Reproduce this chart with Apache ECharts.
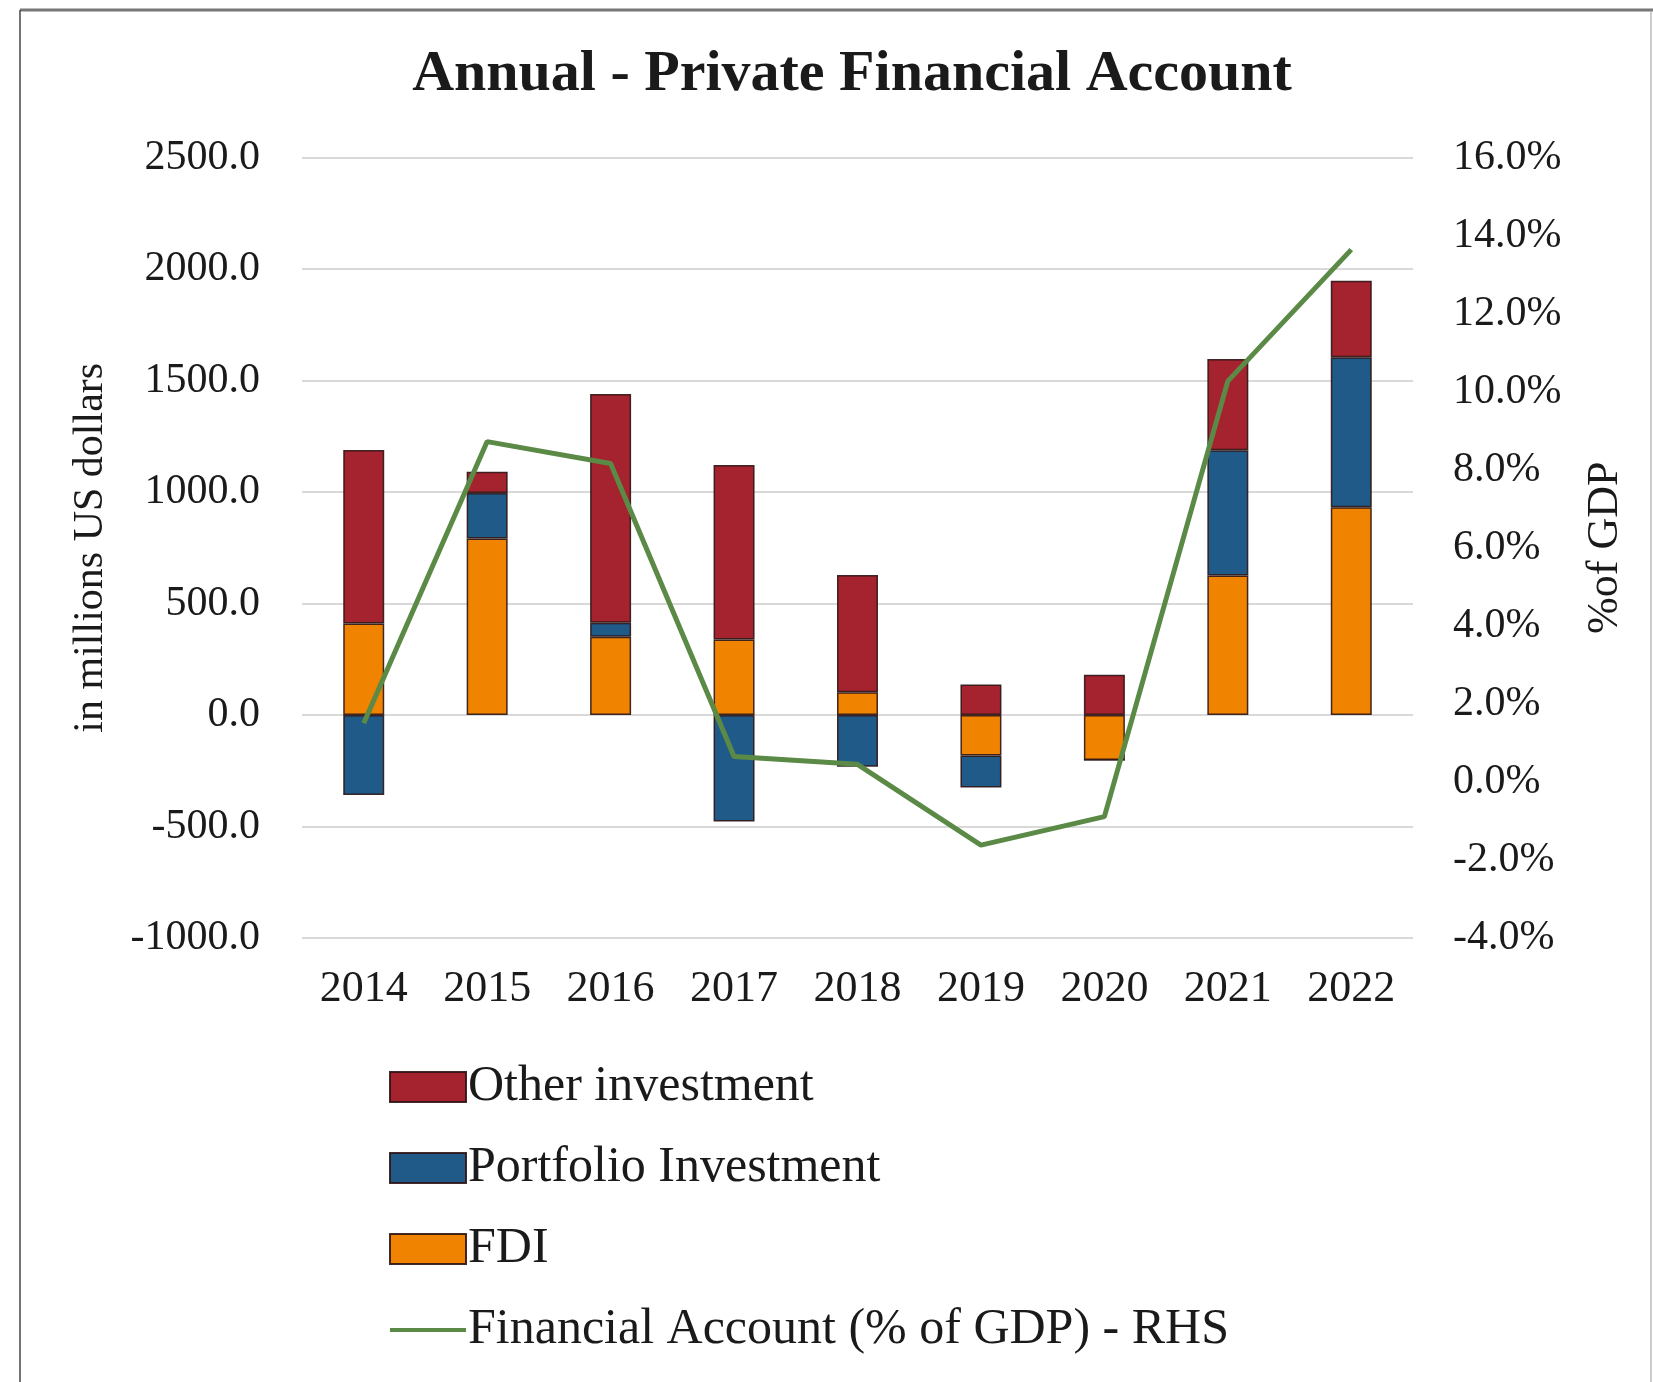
<!DOCTYPE html>
<html>
<head>
<meta charset="utf-8">
<script src="https://cdn.jsdelivr.net/npm/echarts@6/dist/echarts.min.js"></script>
<style>
  html, body { margin: 0; padding: 0; background: #ffffff; }
  #chart { width: 1653px; height: 1382px; }
</style>
</head>
<body>
<div id="chart"></div>
<script>
const years = ['2014', '2015', '2016', '2017', '2018', '2019', '2020', '2021', '2022'];
const fdi = [410, 792, 351, 339, 102, -182, -202, 626, 932];
const portfolio = [-359, 203, 63, -478, -232, -143, 0, 561, 672];
const otherInv = [778, 96, 1025, 782, 526, 137, 181, 409, 343];
const finAccountPct = [1.50, 8.72, 8.16, 0.65, 0.45, -1.62, -0.89, 10.27, 13.64];

const leftTicks = { min: -1000, max: 2500, interval: 500 };
const rightTicks = { min: -4, max: 16, interval: 2 };

const FONT = '"Liberation Serif", "DejaVu Serif", serif';
const TEXT = '#1a1a1a';
const BORDER = 'rgba(45,20,20,0.9)';

const chart = echarts.init(document.getElementById('chart'), null, { renderer: 'canvas' });

const barItem = (color) => ({ color: color, borderColor: BORDER, borderWidth: 1.5 });

chart.setOption({
  backgroundColor: '#ffffff',
  animation: false,
  textStyle: { fontFamily: FONT, color: TEXT },
  title: {
    text: 'Annual - Private Financial Account',
    left: 847,
    textAlign: 'center',
    top: 41,
    textStyle: { fontFamily: FONT, fontSize: 58, fontWeight: 'bold', color: TEXT }
  },
  graphic: [
    { type: 'line', shape: { x1: 20, y1: 10, x2: 1653, y2: 10 }, style: { stroke: '#777', lineWidth: 3 } },
    { type: 'line', shape: { x1: 20, y1: 10, x2: 20, y2: 1382 }, style: { stroke: '#444', lineWidth: 1.5 } },
    { type: 'line', shape: { x1: 1651, y1: 10, x2: 1651, y2: 1382 }, style: { stroke: '#999', lineWidth: 1 } }
  ],
  grid: { left: 302, right: 240, top: 157.5, bottom: 444, containLabel: false },
  legend: {
    orient: 'vertical',
    left: 383,
    top: 1057,
    itemWidth: 76,
    itemHeight: 30,
    itemGap: 31,
    data: [
      { name: 'Other investment', icon: 'rect' },
      { name: 'Portfolio Investment', icon: 'rect' },
      { name: 'FDI', icon: 'rect' },
      { name: 'Financial Account (% of GDP) - RHS', itemStyle: { opacity: 0 }, lineStyle: { width: 4 } }
    ],
    textStyle: { fontFamily: FONT, fontSize: 50, color: TEXT, lineHeight: 50, padding: [0, 0, 0, -3] }
  },
  xAxis: {
    type: 'category',
    data: years,
    axisLine: { show: false, onZero: false },
    axisTick: { show: false },
    axisLabel: { fontFamily: FONT, fontSize: 44, color: TEXT, margin: 29 }
  },
  yAxis: [
    {
      type: 'value',
      min: leftTicks.min,
      max: leftTicks.max,
      interval: leftTicks.interval,
      name: 'in millions US dollars',
      nameLocation: 'middle',
      nameRotate: 90,
      nameGap: 211,
      nameTextStyle: { fontFamily: FONT, fontSize: 42, color: TEXT, verticalAlign: 'middle' },
      axisLine: { show: false },
      axisTick: { show: false },
      axisLabel: {
        fontFamily: FONT, fontSize: 42, color: TEXT, margin: 42,
        formatter: (v) => v.toFixed(1)
      },
      splitLine: { show: true, lineStyle: { color: '#d9d9d9', width: 2 } }
    },
    {
      type: 'value',
      min: rightTicks.min,
      max: rightTicks.max,
      interval: rightTicks.interval,
      position: 'right',
      name: '%of GDP',
      nameLocation: 'middle',
      nameRotate: 90,
      nameGap: 192,
      nameTextStyle: { fontFamily: FONT, fontSize: 44, color: TEXT, verticalAlign: 'middle' },
      axisLine: { show: false },
      axisTick: { show: false },
      splitLine: { show: false },
      axisLabel: {
        fontFamily: FONT, fontSize: 42, color: TEXT, margin: 40,
        formatter: (v) => v.toFixed(1) + '%'
      }
    }
  ],
  series: [
    {
      name: 'FDI', type: 'bar', stack: 'pfa', yAxisIndex: 0,
      barWidth: 41, data: fdi, itemStyle: barItem('#f08400')
    },
    {
      name: 'Portfolio Investment', type: 'bar', stack: 'pfa', yAxisIndex: 0,
      barWidth: 41, data: portfolio, itemStyle: barItem('#1f5a88')
    },
    {
      name: 'Other investment', type: 'bar', stack: 'pfa', yAxisIndex: 0,
      barWidth: 41, data: otherInv, itemStyle: barItem('#a5222f')
    },
    {
      name: 'Financial Account (% of GDP) - RHS', type: 'line', yAxisIndex: 1,
      data: finAccountPct, symbol: 'none', showSymbol: false, z: 5,
      lineStyle: { color: '#5b8a47', width: 5 },
      itemStyle: { color: '#5b8a47' }
    }
  ]
});
</script>
</body>
</html>
